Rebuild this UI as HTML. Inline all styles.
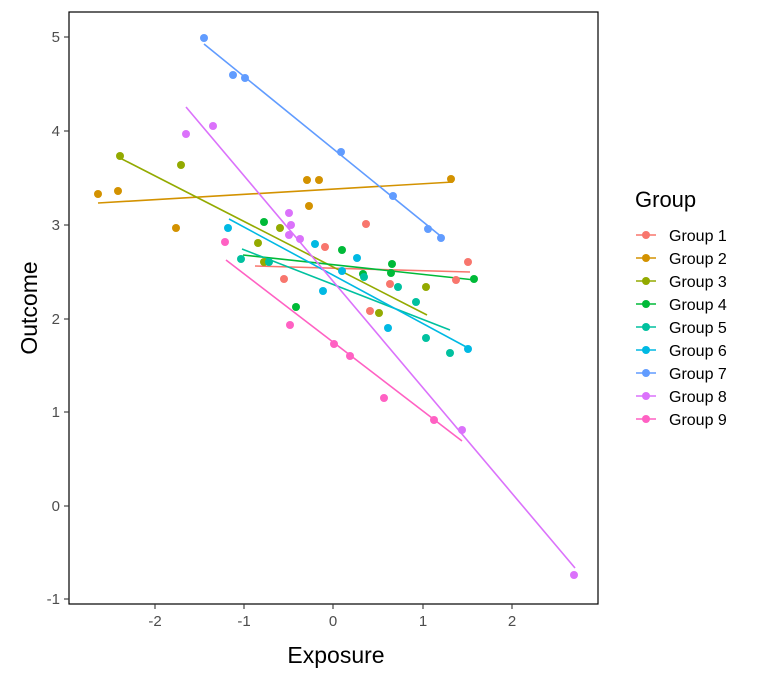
<!DOCTYPE html>
<html><head><style>body{margin:0;background:#fff}svg{display:block}</style></head><body>
<svg width="768" height="679" xmlns="http://www.w3.org/2000/svg" font-family="Liberation Sans, sans-serif">
<rect x="69" y="12" width="529" height="592" fill="none" stroke="#000" stroke-width="1.2"/>
<g stroke="#333" stroke-width="1.1">
<line x1="64" x2="69" y1="37" y2="37"/><line x1="64" x2="69" y1="131" y2="131"/><line x1="64" x2="69" y1="225" y2="225"/><line x1="64" x2="69" y1="319" y2="319"/><line x1="64" x2="69" y1="412" y2="412"/><line x1="64" x2="69" y1="506" y2="506"/><line x1="64" x2="69" y1="599" y2="599"/>
<line y1="604" y2="609" x1="155" x2="155"/><line y1="604" y2="609" x1="244" x2="244"/><line y1="604" y2="609" x1="333" x2="333"/><line y1="604" y2="609" x1="423" x2="423"/><line y1="604" y2="609" x1="512" x2="512"/>
</g>
<g font-size="15" fill="#4d4d4d" text-anchor="end">
<text x="60" y="42">5</text><text x="60" y="136">4</text><text x="60" y="230">3</text><text x="60" y="324">2</text><text x="60" y="417">1</text><text x="60" y="511">0</text><text x="60" y="604">-1</text>
</g>
<g font-size="15" fill="#4d4d4d" text-anchor="middle">
<text x="155" y="626">-2</text><text x="244" y="626">-1</text><text x="333" y="626">0</text><text x="423" y="626">1</text><text x="512" y="626">2</text>
</g>
<text x="336" y="663" font-size="23" text-anchor="middle">Exposure</text>
<text transform="translate(37,308) rotate(-90)" font-size="23" text-anchor="middle">Outcome</text>
<g stroke-width="1.6" fill="none">
<line x1="255" y1="266" x2="470" y2="272" stroke="#F8766D"/>
<line x1="98" y1="203" x2="453" y2="182" stroke="#D39200"/>
<line x1="120" y1="158" x2="427" y2="315" stroke="#93AA00"/>
<line x1="243" y1="255" x2="475" y2="280" stroke="#00BA38"/>
<line x1="242" y1="249" x2="450" y2="330" stroke="#00C19F"/>
<line x1="229" y1="219" x2="470" y2="349" stroke="#00B9E3"/>
<line x1="204" y1="44" x2="443" y2="238" stroke="#619CFF"/>
<line x1="186" y1="107" x2="575" y2="568" stroke="#DB72FB"/>
<line x1="226" y1="260" x2="462" y2="441" stroke="#FF61C3"/>
</g>
<g fill="#F8766D"><circle cx="366" cy="224" r="4"/><circle cx="325" cy="247" r="4"/><circle cx="284" cy="279" r="4"/><circle cx="468" cy="262" r="4"/><circle cx="456" cy="280" r="4"/><circle cx="390" cy="284" r="4"/><circle cx="370" cy="311" r="4"/></g>
<g fill="#D39200"><circle cx="98" cy="194" r="4"/><circle cx="118" cy="191" r="4"/><circle cx="176" cy="228" r="4"/><circle cx="307" cy="180" r="4"/><circle cx="319" cy="180" r="4"/><circle cx="309" cy="206" r="4"/><circle cx="451" cy="179" r="4"/></g>
<g fill="#93AA00"><circle cx="120" cy="156" r="4"/><circle cx="181" cy="165" r="4"/><circle cx="258" cy="243" r="4"/><circle cx="280" cy="228" r="4"/><circle cx="264" cy="262" r="4"/><circle cx="379" cy="313" r="4"/><circle cx="426" cy="287" r="4"/></g>
<g fill="#00BA38"><circle cx="264" cy="222" r="4"/><circle cx="342" cy="250" r="4"/><circle cx="392" cy="264" r="4"/><circle cx="391" cy="273" r="4"/><circle cx="296" cy="307" r="4"/><circle cx="474" cy="279" r="4"/><circle cx="363" cy="274" r="4"/></g>
<g fill="#00C19F"><circle cx="241" cy="259" r="4"/><circle cx="269" cy="262" r="4"/><circle cx="364" cy="277" r="4"/><circle cx="398" cy="287" r="4"/><circle cx="416" cy="302" r="4"/><circle cx="426" cy="338" r="4"/><circle cx="450" cy="353" r="4"/></g>
<g fill="#00B9E3"><circle cx="228" cy="228" r="4"/><circle cx="315" cy="244" r="4"/><circle cx="357" cy="258" r="4"/><circle cx="323" cy="291" r="4"/><circle cx="388" cy="328" r="4"/><circle cx="468" cy="349" r="4"/><circle cx="342" cy="271" r="4"/></g>
<g fill="#619CFF"><circle cx="204" cy="38" r="4"/><circle cx="233" cy="75" r="4"/><circle cx="245" cy="78" r="4"/><circle cx="341" cy="152" r="4"/><circle cx="393" cy="196" r="4"/><circle cx="428" cy="229" r="4"/><circle cx="441" cy="238" r="4"/></g>
<g fill="#DB72FB"><circle cx="186" cy="134" r="4"/><circle cx="213" cy="126" r="4"/><circle cx="289" cy="213" r="4"/><circle cx="291" cy="225" r="4"/><circle cx="289" cy="235" r="4"/><circle cx="300" cy="239" r="4"/><circle cx="462" cy="430" r="4"/><circle cx="574" cy="575" r="4"/></g>
<g fill="#FF61C3"><circle cx="225" cy="242" r="4"/><circle cx="290" cy="325" r="4"/><circle cx="334" cy="344" r="4"/><circle cx="350" cy="356" r="4"/><circle cx="384" cy="398" r="4"/><circle cx="434" cy="420" r="4"/></g>
<text x="635" y="207" font-size="22">Group</text>
<g font-size="16">
<g transform="translate(0,235)"><line x1="636" x2="656" stroke="#F8766D" stroke-width="1.6"/><circle cx="646" r="4" fill="#F8766D"/><text x="669" y="6">Group 1</text></g>
<g transform="translate(0,258)"><line x1="636" x2="656" stroke="#D39200" stroke-width="1.6"/><circle cx="646" r="4" fill="#D39200"/><text x="669" y="6">Group 2</text></g>
<g transform="translate(0,281)"><line x1="636" x2="656" stroke="#93AA00" stroke-width="1.6"/><circle cx="646" r="4" fill="#93AA00"/><text x="669" y="6">Group 3</text></g>
<g transform="translate(0,304)"><line x1="636" x2="656" stroke="#00BA38" stroke-width="1.6"/><circle cx="646" r="4" fill="#00BA38"/><text x="669" y="6">Group 4</text></g>
<g transform="translate(0,327)"><line x1="636" x2="656" stroke="#00C19F" stroke-width="1.6"/><circle cx="646" r="4" fill="#00C19F"/><text x="669" y="6">Group 5</text></g>
<g transform="translate(0,350)"><line x1="636" x2="656" stroke="#00B9E3" stroke-width="1.6"/><circle cx="646" r="4" fill="#00B9E3"/><text x="669" y="6">Group 6</text></g>
<g transform="translate(0,373)"><line x1="636" x2="656" stroke="#619CFF" stroke-width="1.6"/><circle cx="646" r="4" fill="#619CFF"/><text x="669" y="6">Group 7</text></g>
<g transform="translate(0,396)"><line x1="636" x2="656" stroke="#DB72FB" stroke-width="1.6"/><circle cx="646" r="4" fill="#DB72FB"/><text x="669" y="6">Group 8</text></g>
<g transform="translate(0,419)"><line x1="636" x2="656" stroke="#FF61C3" stroke-width="1.6"/><circle cx="646" r="4" fill="#FF61C3"/><text x="669" y="6">Group 9</text></g>
</g>
</svg>
</body></html>
